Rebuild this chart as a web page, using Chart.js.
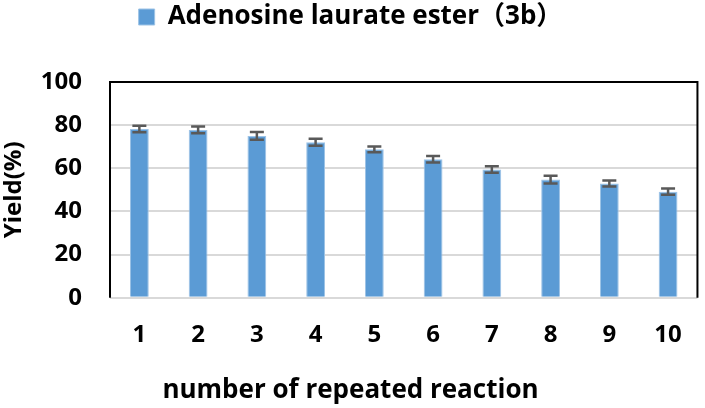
<!DOCTYPE html>
<html>
<head>
<meta charset="utf-8">
<script src="https://cdn.jsdelivr.net/npm/chart.js@4"></script>
<style>
  body { margin: 0; background: #fff; }
  #wrap { width: 705px; height: 408px; }
</style>
</head>
<body>
<div id="wrap"><canvas id="myChart"></canvas></div>
<script>
const labels = ['1', '2', '3', '4', '5', '6', '7', '8', '9', '10']
const yieldValues = [78.2, 77.8, 75.0, 72.1, 68.8, 64.2, 59.5, 54.8, 53.0, 49.2]
const yieldErrors = [1.5, 1.6, 1.8, 1.6, 1.3, 1.5, 1.5, 1.8, 1.4, 1.5]
const yTicks = [0, 20, 40, 60, 80, 100]

const fontFamily = "'Open Sans', 'Noto Sans CJK SC', sans-serif"

// extra room under the legend
const legendGap = {
  id: 'legendGap',
  beforeInit(chart) {
    const fit = chart.legend.fit
    chart.legend.fit = function () {
      fit.bind(chart.legend)()
      this.height += 42
    }
  }
}

// error bars + frame, drawn from the chart's own scales
const errorBars = {
  id: 'errorBars',
  afterDatasetsDraw(chart) {
    const ctx = chart.ctx
    const y = chart.scales.y
    const meta = chart.getDatasetMeta(0)
    ctx.save()
    ctx.strokeStyle = '#595959'
    ctx.lineWidth = 2.5
    meta.data.forEach(function (bar, i) {
      const top = y.getPixelForValue(yieldValues[i] + yieldErrors[i])
      const bottom = y.getPixelForValue(yieldValues[i] - yieldErrors[i])
      const half = 7
      ctx.beginPath()
      ctx.moveTo(bar.x, top); ctx.lineTo(bar.x, bottom)
      ctx.moveTo(bar.x - half, top); ctx.lineTo(bar.x + half, top)
      ctx.moveTo(bar.x - half, bottom); ctx.lineTo(bar.x + half, bottom)
      ctx.stroke()
    })
    const a = chart.chartArea
    ctx.strokeStyle = '#000'
    ctx.lineWidth = 2
    ctx.beginPath()
    ctx.moveTo(a.left, a.bottom); ctx.lineTo(a.left, a.top)
    ctx.lineTo(a.right, a.top); ctx.lineTo(a.right, a.bottom)
    ctx.stroke()
    ctx.restore()
  }
}

const ctx = document.getElementById('myChart').getContext('2d')

const myChart = new Chart(ctx, {
  type: 'bar',
  data: {
    labels: labels,
    datasets: [{
      label: 'Adenosine laurate ester（3b）',
      data: yieldValues,
      backgroundColor: '#5B9BD5',
      borderColor: '#9DC3E6',
      borderWidth: 1,
      barPercentage: 0.32,
      categoryPercentage: 1.0
    }]
  },
  options: {
    responsive: true,
    maintainAspectRatio: false,
    animation: false,
    layout: { padding: { top: 0, right: 4, left: 0, bottom: 0 } },
    plugins: {
      legend: {
        position: 'top',
        labels: {
          color: '#000',
          boxWidth: 16,
          boxHeight: 16,
          padding: 4,
          font: { family: fontFamily, size: 26, weight: 'bold' }
        }
      },
      title: {
        display: true,
        position: 'bottom',
        text: 'number of repeated reaction',
        color: '#000',
        padding: { top: 0, bottom: 2 },
        font: { family: fontFamily, size: 26, weight: 'bold' }
      },
      tooltip: { enabled: false }
    },
    scales: {
      x: {
        grid: { display: false, drawTicks: false },
        border: { display: false },
        afterFit: function (axis) { axis.height = 77 },
        ticks: {
          color: '#000',
          padding: 23,
          font: { family: fontFamily, size: 24, weight: 'bold' }
        }
      },
      y: {
        min: 0,
        max: 100,
        afterBuildTicks: function (axis) {
          axis.ticks = yTicks.map(function (v) { return { value: v } })
        },
        afterFit: function (axis) { axis.width = 110 },
        grid: { color: '#D9D9D9', lineWidth: 2, drawTicks: false },
        border: { display: false },
        ticks: {
          color: '#000',
          padding: 28,
          font: { family: fontFamily, size: 24, weight: 'bold' }
        },
        title: {
          display: true,
          text: 'Yield(%)',
          color: '#000',
          padding: { top: 0, bottom: 0 },
          font: { family: fontFamily, size: 24, weight: 'bold' }
        }
      }
    }
  },
  plugins: [legendGap, errorBars]
})
</script>
</body>
</html>
